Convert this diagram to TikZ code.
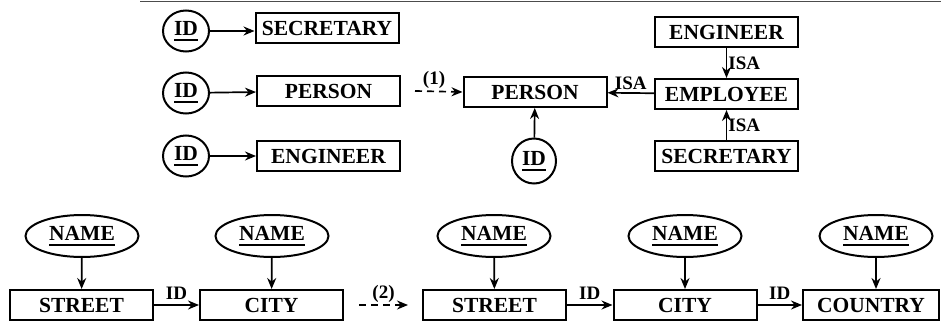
\documentclass[tikz,border=0pt]{standalone}
\usepackage{fontspec}
\setmainfont{Liberation Serif}
\usetikzlibrary{arrows.meta,shapes.geometric}

% underlined key attribute
\newcommand\keyattr[1]{\setbox0\hbox{#1}\rlap{\copy0}\rule[-5pt]{\wd0}{2pt}}

\begin{document}
\begin{tikzpicture}[x=1pt,y=-1pt,
    font=\fontsize{21.5}{24}\selectfont\bfseries,
    entity/.style={draw, line width=2pt, minimum width=143pt, minimum height=30pt, inner sep=0pt},
    idkey/.style={draw, ellipse, line width=2pt, minimum width=46pt, minimum height=41pt, inner sep=0pt},
    attr/.style={draw, ellipse, line width=2pt, minimum width=113pt, minimum height=42pt, inner sep=0pt},
    link/.style={line width=1.7pt, -{Stealth[length=11pt,width=9pt]}},
    transf/.style={link, dash pattern=on 7pt off 5pt},
    lbl/.style={font=\fontsize{19}{22}\selectfont\bfseries, inner sep=2pt}]

  \useasboundingbox (0,0) rectangle (941,324);

  %%%%% top edge of the page %%%%%
  \draw[line width=0.8pt, black!70] (140,1) -- (941,1);

  %%%%% three entities, each with its own ID %%%%%
  \node[idkey] (id1) at (186,31) {\keyattr{ID}};
  \node[idkey] (id2) at (186,93) {\keyattr{ID}};
  \node[idkey] (id3) at (186,156) {\keyattr{ID}};
  \node[entity] (lsec) at (327,28) {SECRETARY};
  \node[entity] (lper) at (328.5,91) {PERSON};
  \node[entity] (leng) at (328.5,156) {ENGINEER};
  \draw[link] (id1) -- (lsec.west |- id1);
  \draw[link] (id2) -- (lper);
  \draw[link] (id3) -- (leng);

  %%%%% (1): hierarchy with one ID on the root %%%%%
  \node[entity] (mper) at (535,92) {PERSON};
  \node[idkey, minimum width=44pt, minimum height=45pt] (mid) at (534,161) {\keyattr{ID}};
  \node[entity] (reng) at (726.5,32) {ENGINEER};
  \node[entity] (remp) at (726.5,94) {EMPLOYEE};
  \node[entity] (rsec) at (726.5,156) {SECRETARY};
  \draw[transf] ([xshift=14pt]lper.east) -- node[lbl, above, pos=0.4] {(1)} (mper.west);
  \draw[link] (mid) -- (mper);
  \draw[link] (remp) -- node[lbl, above] {ISA} (mper);
  \draw[link] (reng) -- node[lbl, right, inner sep=1pt] {ISA} (remp);
  \draw[link] (rsec) -- node[lbl, right, inner sep=1pt] {ISA} (remp);

  %%%%% (2): chain of weak entities %%%%%
  \node[entity] (str1) at (81.5,305) {STREET};
  \node[entity] (cit1) at (271.5,305) {CITY};
  \node[attr] (nam1) at (82,236) {\keyattr{NAME}};
  \node[attr] (nam2) at (272,236) {\keyattr{NAME}};
  \draw[link] (nam1) -- (str1);
  \draw[link] (nam2) -- (cit1);
  \draw[link] (str1) -- node[lbl, above=3pt] {ID} (cit1);

  \node[entity] (str2) at (494.5,305) {STREET};
  \node[entity] (cit2) at (685,305) {CITY};
  \node[entity, minimum width=136pt] (cou2) at (871,305) {COUNTRY};
  \node[attr] (nam3) at (494,236) {\keyattr{NAME}};
  \node[attr] (nam4) at (685,236) {\keyattr{NAME}};
  \node[attr] (nam5) at (876,236) {\keyattr{NAME}};
  \draw[link] (nam3) -- (str2);
  \draw[link] (nam4) -- (cit2);
  \draw[link] (nam5.south) -- (nam5.south |- cou2.north);
  \draw[link] (str2) -- node[lbl, above=3pt] {ID} (cit2);
  \draw[link] (cit2) -- node[lbl, above=3pt] {ID} (cou2);

  \draw[transf] ([xshift=15pt]cit1.east) -- node[lbl, above] {(2)} ([xshift=-14pt]str2.west);
\end{tikzpicture}
\end{document}
